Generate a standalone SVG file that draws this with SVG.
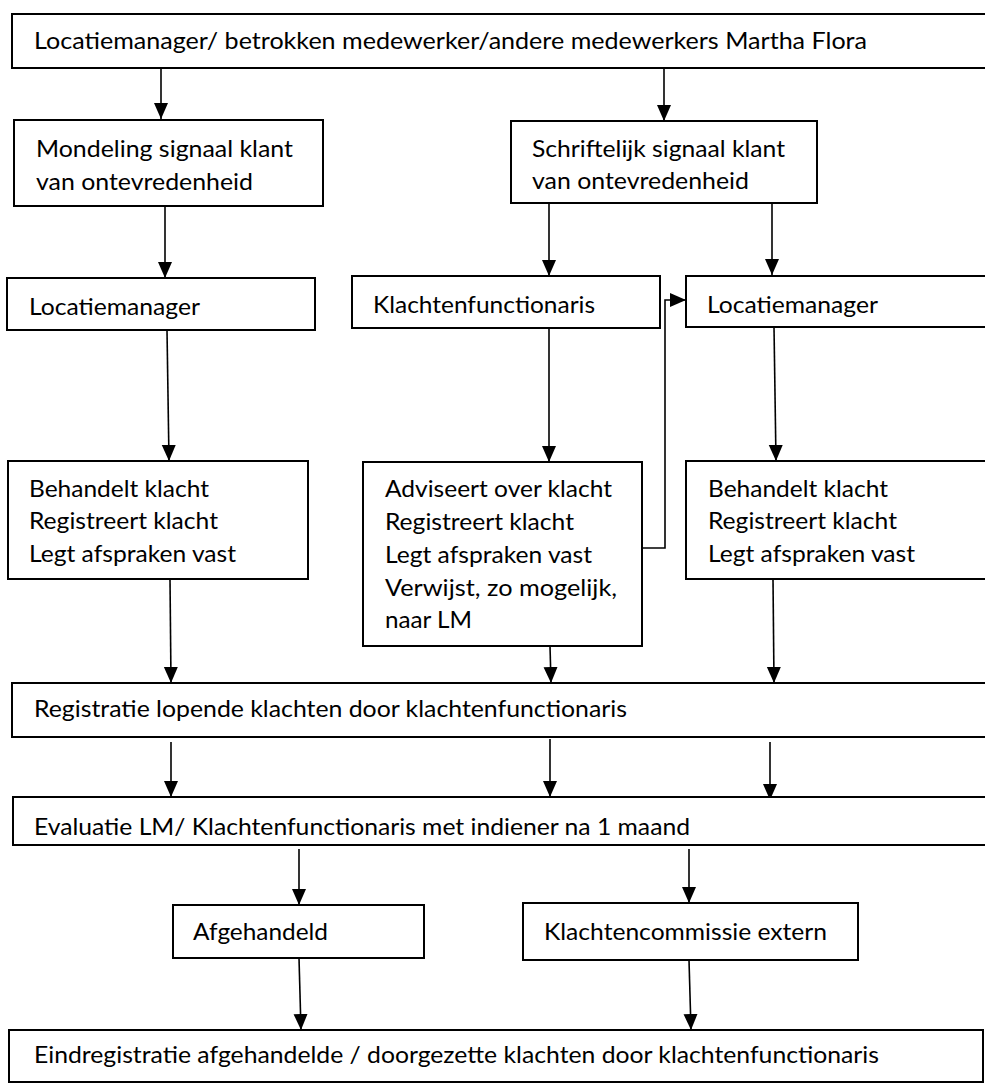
<svg xmlns="http://www.w3.org/2000/svg" width="985" height="1084" viewBox="0 0 985 1084">
<style>
.box{fill:#fff;stroke:#000;stroke-width:2}
.t{font-family:Lato,"Open Sans","Liberation Sans",sans-serif;font-size:23px;fill:#000}
.c{fill:none;stroke:#000;stroke-width:1.6}
</style>
<defs>
<marker id="ah" markerUnits="userSpaceOnUse" markerWidth="16" markerHeight="16" refX="16" refY="7" orient="auto">
<path d="M0,0 L16,7 L0,14 z" fill="#000"/>
</marker>
</defs>
<rect width="985" height="1084" fill="#fff"/>
<g id="connectors">
<path class="c" d="M161,69 V119" marker-end="url(#ah)"/>
<path class="c" d="M664,69 V121" marker-end="url(#ah)"/>
<path class="c" d="M165,206 V278" marker-end="url(#ah)"/>
<path class="c" d="M549,203 V276" marker-end="url(#ah)"/>
<path class="c" d="M772,203 V275" marker-end="url(#ah)"/>
<path class="c" d="M549,328 V462" marker-end="url(#ah)"/>
<path class="c" d="M774,327 L776,461" marker-end="url(#ah)"/>
<path class="c" d="M167,330 L169,461" marker-end="url(#ah)"/>
<path class="c" d="M643,548 H665 V300 H686" marker-end="url(#ah)"/>
<path class="c" d="M170,579 L171,683" marker-end="url(#ah)"/>
<path class="c" d="M550,646 L551,683" marker-end="url(#ah)"/>
<path class="c" d="M773,579 L774,683" marker-end="url(#ah)"/>
<path class="c" d="M171,742 V797" marker-end="url(#ah)"/>
<path class="c" d="M550,739 V797" marker-end="url(#ah)"/>
<path class="c" d="M770,742 V800" marker-end="url(#ah)"/>
<path class="c" d="M299,849 V905" marker-end="url(#ah)"/>
<path class="c" d="M689,849 V903" marker-end="url(#ah)"/>
<path class="c" d="M299,958 L301,1030" marker-end="url(#ah)"/>
<path class="c" d="M689,960 L691,1030" marker-end="url(#ah)"/>
</g>
<g id="n-top">
<rect class="box" x="12" y="14" width="980" height="54"/>
<text class="t" x="34" y="49" textLength="833" lengthAdjust="spacingAndGlyphs">Locatiemanager/ betrokken medewerker/andere medewerkers Martha Flora</text>
</g>
<g id="n-mondeling">
<rect class="box" x="14" y="120" width="309" height="86"/>
<text class="t" x="36" y="157" textLength="257" lengthAdjust="spacingAndGlyphs">Mondeling signaal klant</text>
<text class="t" x="36" y="190" textLength="217" lengthAdjust="spacingAndGlyphs">van ontevredenheid</text>
</g>
<g id="n-schriftelijk">
<rect class="box" x="511" y="121" width="306" height="82"/>
<text class="t" x="532" y="157" textLength="253" lengthAdjust="spacingAndGlyphs">Schriftelijk signaal klant</text>
<text class="t" x="532" y="189" textLength="217" lengthAdjust="spacingAndGlyphs">van ontevredenheid</text>
</g>
<g id="n-lm-left">
<rect class="box" x="7" y="278" width="308" height="52"/>
<text class="t" x="29" y="315" textLength="171" lengthAdjust="spacingAndGlyphs">Locatiemanager</text>
</g>
<g id="n-klachtenfunctionaris">
<rect class="box" x="352" y="276" width="308" height="52"/>
<text class="t" x="373" y="313" textLength="222" lengthAdjust="spacingAndGlyphs">Klachtenfunctionaris</text>
</g>
<g id="n-lm-right">
<rect class="box" x="686" y="276" width="306" height="51"/>
<text class="t" x="707" y="313" textLength="171" lengthAdjust="spacingAndGlyphs">Locatiemanager</text>
</g>
<g id="n-behandelt-left">
<rect class="box" x="8" y="461" width="300" height="118"/>
<text class="t" x="29" y="497" textLength="180" lengthAdjust="spacingAndGlyphs">Behandelt klacht</text>
<text class="t" x="29" y="529" textLength="189" lengthAdjust="spacingAndGlyphs">Registreert klacht</text>
<text class="t" x="29" y="562" textLength="207" lengthAdjust="spacingAndGlyphs">Legt afspraken vast</text>
</g>
<g id="n-adviseert">
<rect class="box" x="363" y="462" width="279" height="184"/>
<text class="t" x="385" y="497" textLength="227" lengthAdjust="spacingAndGlyphs">Adviseert over klacht</text>
<text class="t" x="385" y="530" textLength="189" lengthAdjust="spacingAndGlyphs">Registreert klacht</text>
<text class="t" x="385" y="563" textLength="207" lengthAdjust="spacingAndGlyphs">Legt afspraken vast</text>
<text class="t" x="385" y="596" textLength="232" lengthAdjust="spacingAndGlyphs">Verwijst, zo mogelijk,</text>
<text class="t" x="385" y="628" textLength="87" lengthAdjust="spacingAndGlyphs">naar LM</text>
</g>
<g id="n-behandelt-right">
<rect class="box" x="686" y="461" width="306" height="118"/>
<text class="t" x="708" y="497" textLength="180" lengthAdjust="spacingAndGlyphs">Behandelt klacht</text>
<text class="t" x="708" y="529" textLength="189" lengthAdjust="spacingAndGlyphs">Registreert klacht</text>
<text class="t" x="708" y="562" textLength="207" lengthAdjust="spacingAndGlyphs">Legt afspraken vast</text>
</g>
<g id="n-registratie">
<rect class="box" x="12" y="683" width="980" height="54"/>
<text class="t" x="34" y="717" textLength="593" lengthAdjust="spacingAndGlyphs">Registratie lopende klachten door klachtenfunctionaris</text>
</g>
<g id="n-evaluatie">
<rect class="box" x="13" y="797" width="979" height="48"/>
<text class="t" x="34" y="835" textLength="656" lengthAdjust="spacingAndGlyphs">Evaluatie LM/ Klachtenfunctionaris met indiener na 1 maand</text>
</g>
<g id="n-afgehandeld">
<rect class="box" x="173" y="905" width="251" height="53"/>
<text class="t" x="193" y="940" textLength="135" lengthAdjust="spacingAndGlyphs">Afgehandeld</text>
</g>
<g id="n-klachtencommissie">
<rect class="box" x="523" y="903" width="335" height="57"/>
<text class="t" x="544" y="940" textLength="283" lengthAdjust="spacingAndGlyphs">Klachtencommissie extern</text>
</g>
<g id="n-eindregistratie">
<rect class="box" x="9" y="1030" width="974" height="52"/>
<text class="t" x="34" y="1063" textLength="845" lengthAdjust="spacingAndGlyphs">Eindregistratie afgehandelde / doorgezette klachten door klachtenfunctionaris</text>
</g>
</svg>
